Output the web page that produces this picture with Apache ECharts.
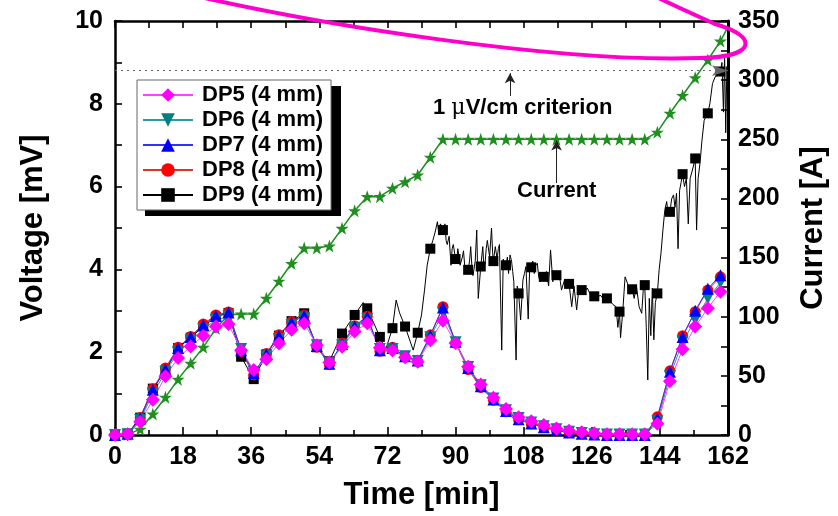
<!DOCTYPE html>
<html>
<head>
<meta charset="utf-8">
<script src="https://cdn.jsdelivr.net/npm/echarts@6/dist/echarts.min.js"></script>
<style>
  html, body { margin: 0; padding: 0; background: #ffffff; }
  #chart { width: 838px; height: 516px; }
</style>
</head>
<body>
<div id="chart"></div>
<script>
// Sample times of the marked points [min]
const timeMin = [0, 3.33, 6.66, 10, 13.33, 16.66, 20, 23.33, 26.66, 30,
  33.33, 36.66, 40, 43.33, 46.66, 50, 53.33, 56.66, 60, 63.33,
  66.66, 70, 73.33, 76.66, 80, 83.33, 86.66, 90, 93.33, 96.66,
  100, 103.33, 106.66, 110, 113.33, 116.66, 120, 123.33, 126.66, 130,
  133.33, 136.66, 140, 143.33, 146.66, 150, 153.33, 156.66, 160];

// Transport current [A]
const currentA = [0, 0.5, 4.8, 17.7, 31.9, 47, 60.6, 74.1, 90.2, 101.4,
  102.3, 102.3, 115.6, 130, 145, 158, 158, 159.8, 174.7, 189.6,
  201.5, 201.5, 208.6, 214.1, 219.8, 234.8, 250, 250, 250, 250,
  250, 250, 250, 250, 250, 250, 250, 250, 250, 250,
  250, 250, 250, 256, 272, 287, 302, 317, 333];
const currentEndTime = 162;
const currentEndA = 345;

// Voltage taps [mV]
const dp5 = [0, 0.02, 0.32, 0.85, 1.42, 1.86, 2.14, 2.40, 2.62, 2.68,
  2.05, 1.57, 1.83, 2.21, 2.54, 2.70, 2.17, 1.75, 2.13, 2.50,
  2.70, 2.11, 2.04, 1.88, 1.77, 2.29, 2.76, 2.22, 1.65, 1.22,
  0.90, 0.63, 0.43, 0.33, 0.24, 0.16, 0.10, 0.065, 0.04, 0.02,
  0.02, 0.02, 0.02, 0.27, 1.30, 2.07, 2.62, 3.06, 3.46];
const dp6 = [0, 0.02, 0.36, 1.0, 1.52, 2.0, 2.28, 2.56, 2.78, 2.86,
  2.08, 1.52, 1.9, 2.32, 2.65, 2.82, 2.17, 1.74, 2.17, 2.58,
  2.8, 2.08, 2.08, 1.9, 1.79, 2.36, 2.95, 2.24, 1.64, 1.2,
  0.88, 0.6, 0.41, 0.3, 0.21, 0.14, 0.08, 0.05, 0.02, 0.01,
  0.01, 0.01, 0.01, 0.33, 1.42, 2.25, 2.78, 3.30, 3.68];
const dp7 = [0, 0.03, 0.40, 1.09, 1.59, 2.10, 2.37, 2.66, 2.88, 2.96,
  2.05, 1.50, 1.95, 2.40, 2.72, 2.88, 2.15, 1.72, 2.20, 2.62,
  2.85, 2.05, 2.10, 1.90, 1.80, 2.40, 3.08, 2.25, 1.62, 1.18,
  0.86, 0.58, 0.38, 0.28, 0.19, 0.12, 0.06, 0.03, 0.01, 0,
  0, 0, 0, 0.40, 1.53, 2.37, 3.0, 3.53, 3.86];
const dp8 = [0, 0.03, 0.42, 1.12, 1.62, 2.12, 2.38, 2.68, 2.9, 2.97,
  2.02, 1.45, 1.97, 2.42, 2.74, 2.9, 2.12, 1.7, 2.22, 2.64,
  2.87, 2.02, 2.12, 1.88, 1.78, 2.42, 3.1, 2.22, 1.58, 1.15,
  0.84, 0.56, 0.37, 0.27, 0.18, 0.11, 0.06, 0.03, 0.01, 0,
  0, 0, 0, 0.44, 1.55, 2.40, 2.98, 3.50, 3.82];
const dp9 = [0, 0.03, 0.42, 1.12, 1.55, 2.1, 2.35, 2.62, 2.85, 2.95,
  1.89, 1.35, 1.95, 2.4, 2.75, 2.94, 2.12, 1.78, 2.45, 2.90,
  3.06, 2.37, 2.58, 2.62, 2.47, 4.5, 4.95, 4.25, 3.99, 4.07,
  4.2, 4.1, 3.42, 4.05, 3.82, 3.86, 3.65, 3.50, 3.35, 3.30,
  2.98, 3.52, 3.62, 3.42, 5.39, 6.30, 6.68, 7.77, 8.78];

// DP9 raw trace between the marked points (noisy section)
const dp9TraceTime = [65.6, 71.5, 74.3, 75.2, 78.8, 81.0, 81.8, 82.5,
  84.0, 84.6, 85.2, 85.6, 86.0, 87.2, 87.5, 87.8, 88.3, 88.8, 89.1, 89.4,
  90.3, 90.6, 91.0, 91.2, 91.8, 92.1, 92.5, 93.7, 94.0, 94.3, 94.6, 95.2, 95.6, 96.0,
  97.2, 97.5, 97.8, 98.1, 98.4, 99.0, 99.5, 99.8, 100.5, 101.0, 101.3, 101.6, 102.2, 102.6,
  103.7, 104.0, 104.4, 104.8, 105.1, 105.4, 106.0, 106.3, 107.2, 107.8, 108.2, 108.6, 109.2, 109.6,
  110.4, 110.8, 111.2, 111.6, 112.0, 112.4, 112.8, 114.0, 114.6, 115.1, 115.7, 116.1,
  117.3, 117.7, 118.0, 118.8, 119.4, 120.7, 121.3, 122.0, 122.6,
  124.0, 124.8, 125.6, 127.4, 128.2, 129.0, 130.8, 131.6, 132.4, 132.9,
  133.6, 134.2, 134.8, 135.5, 136.1, 137.2, 137.8, 138.5, 139.2, 139.6,
  140.4, 140.8, 141.2, 141.6, 142.0, 142.4, 142.8,
  143.8, 144.3, 144.8, 145.3, 145.8, 146.2, 147.1, 147.6, 148.0, 148.4, 148.8, 149.2, 149.6,
  150.5, 151.0, 151.5, 152.0, 152.6, 153.7, 154.1, 154.6, 155.1, 155.7,
  157.2, 157.9, 158.6, 159.3, 160.4, 160.8, 161.1, 161.4, 161.7, 162.0];
const dp9TraceVolt = [3.2, 2.05, 3.26, 2.95, 2.05, 2.9, 3.5, 4.1,
  4.7, 4.9, 5.15, 4.85, 5.1, 5.1, 4.7, 4.6, 4.8, 4.1, 4.5, 4.6,
  4.2, 4.5, 4.25, 4.1, 4.3, 4.45, 4.0, 4.2, 4.55, 4.1, 3.85, 4.2, 4.95, 3.3,
  4.55, 4.0, 4.15, 4.5, 4.7, 4.3, 5.0, 4.4, 4.55, 4.25, 4.5, 4.6, 2.05, 4.25,
  4.3, 3.9, 4.35, 4.2, 3.95, 3.7, 1.81, 3.6, 2.78, 3.74, 3.9, 4.07, 2.8, 4.1,
  4.2, 3.9, 4.1, 4.15, 3.8, 3.7, 3.9, 3.95, 3.6, 4.47, 3.7, 3.95,
  3.95, 3.7, 3.5, 3.75, 3.55, 3.1, 3.6, 3.02, 3.55,
  3.45, 3.55, 3.4, 3.3, 3.38, 3.3, 3.25, 3.15, 3.1, 2.6,
  2.35, 3.0, 3.82, 3.65, 3.4, 3.3, 3.6, 3.1, 2.94, 3.5,
  2.6, 1.33, 3.3, 2.4, 3.55, 2.3, 3.2,
  3.99, 4.4, 4.95, 5.43, 5.64, 5.3, 5.7, 5.8, 5.5, 5.84, 4.5, 5.9, 6.1,
  6.0, 6.2, 5.1, 6.2, 6.4, 4.95, 6.2, 6.56, 7.1, 7.6,
  8.0, 8.49, 8.65, 8.7, 9.0, 7.8, 9.2, 7.3, 8.9, 8.5];

// Voltage criterion level [mV]
const criterionMV = 8.8;

// Axis tick settings
const timeTicks = { min: 0, max: 162, interval: 18 };
const voltTicks = { min: 0, max: 10, interval: 2 };
const currTicks = { min: 0, max: 350, interval: 50 };

const FONT = '"Liberation Sans", Arial, Helvetica, sans-serif';

const pairs = (xs, ys) => xs.map((x, i) => [x, ys[i]]);

const dp9Data = timeMin.map((t, i) => ({ value: [t, dp9[i]] }))
  .concat(dp9TraceTime.map((t, i) => ({ value: [t, dp9TraceVolt[i]], symbol: 'none' })))
  .sort((a, b) => a.value[0] - b.value[0]);

const currentData = pairs(timeMin, currentA)
  .concat([{ value: [currentEndTime, currentEndA], symbol: 'none' }]);

const STAR = 'path://M50,0 L61.8,35.4 L99,35.4 L69,57.3 L80.4,92.7 L50,70.8 L19.6,92.7 L31,57.3 L1,35.4 L38.2,35.4 Z';

const tickLine = { color: '#000', width: 1.6 };

// Hand-drawn highlight loop in the upper right corner
const loopStyle = { stroke: '#ff00cc', lineWidth: 4, fill: null, lineCap: 'round' };
const loopSegments = [
  { x1: 170, y1: -10, cpx1: 320, cpy1: 26, cpx2: 560, cpy2: 63, x2: 700, y2: 58 },
  { x1: 700, y1: 58, cpx1: 758, cpy1: 57, cpx2: 758, cpy2: 36, x2: 715, y2: 24 },
  { x1: 715, y1: 24, cpx1: 695, cpy1: 15, cpx2: 675, cpy2: 6, x2: 650, y2: -6 }
];

const chart = echarts.init(document.getElementById('chart'), null, { renderer: 'canvas' });

chart.setOption({
  animation: false,
  backgroundColor: '#ffffff',
  textStyle: { fontFamily: FONT },
  grid: { left: 115, right: 110, top: 21, bottom: 81, containLabel: false, outerBoundsMode: 'none' },
  legend: {
    orient: 'vertical',
    left: 137, top: 80, z: 10,
    padding: [4, 8, 4, 5],
    itemGap: 3,
    itemWidth: 50,
    itemHeight: 17,
    backgroundColor: '#ffffff',
    borderColor: '#666',
    borderWidth: 1,
    selectedMode: false,
    data: ['DP5 (4 mm)', 'DP6 (4 mm)', 'DP7 (4 mm)', 'DP8 (4 mm)', 'DP9 (4 mm)'],
    textStyle: { fontSize: 22, fontWeight: 'bold', color: '#000', fontFamily: FONT, lineHeight: 22, padding: [0, 0, 0, 4] }
  },
  xAxis: [{
    type: 'value', position: 'bottom',
    min: timeTicks.min, max: timeTicks.max, interval: timeTicks.interval,
    name: 'Time [min]', nameLocation: 'middle', nameGap: 45,
    nameTextStyle: { fontSize: 31, fontWeight: 'bold', color: '#000', fontFamily: FONT },
    axisLine: { show: true, onZero: false, lineStyle: { color: '#000', width: 2.5 } },
    axisTick: { show: true, inside: true, length: 8, lineStyle: tickLine },
    minorTick: { show: true, splitNumber: 2, length: 5, lineStyle: tickLine },
    axisLabel: { fontSize: 25, fontWeight: 'bold', color: '#000', margin: 10, fontFamily: FONT },
    splitLine: { show: false }
  }, {
    type: 'value', position: 'top',
    min: timeTicks.min, max: timeTicks.max, interval: 9,
    axisLine: { show: true, onZero: false, lineStyle: { color: '#000', width: 2.5 } },
    axisTick: { show: true, inside: true, length: 7, lineStyle: tickLine },
    axisLabel: { show: false },
    splitLine: { show: false }
  }],
  yAxis: [{
    type: 'value', position: 'left',
    min: voltTicks.min, max: voltTicks.max, interval: voltTicks.interval,
    name: 'Voltage [mV]', nameLocation: 'middle', nameGap: 66, nameRotate: 90,
    nameTextStyle: { fontSize: 31, fontWeight: 'bold', color: '#000', fontFamily: FONT },
    axisLine: { show: true, onZero: false, lineStyle: { color: '#000', width: 2.5 } },
    axisTick: { show: true, inside: true, length: 7, lineStyle: tickLine },
    minorTick: { show: true, splitNumber: 2, length: 7, lineStyle: tickLine },
    axisLabel: { fontSize: 25, fontWeight: 'bold', color: '#000', margin: 12, fontFamily: FONT },
    splitLine: { show: false }
  }, {
    type: 'value', position: 'right',
    min: currTicks.min, max: currTicks.max, interval: currTicks.interval,
    name: 'Current [A]', nameLocation: 'middle', nameGap: 70, nameRotate: 90,
    nameTextStyle: { fontSize: 31, fontWeight: 'bold', color: '#000', fontFamily: FONT },
    axisLine: { show: true, onZero: false, lineStyle: { color: '#000', width: 3 } },
    axisTick: { show: true, inside: true, length: 7, lineStyle: tickLine },
    minorTick: { show: true, splitNumber: 2, length: 7, lineStyle: tickLine },
    axisLabel: { fontSize: 25, fontWeight: 'bold', color: '#000', margin: 10, fontFamily: FONT },
    splitLine: { show: false }
  }],
  series: [{
    name: 'Current', type: 'line', yAxisIndex: 1,
    data: currentData,
    symbol: STAR, symbolSize: 13,
    itemStyle: { color: '#1f8f1f' },
    lineStyle: { color: '#1f8f1f', width: 1.5 },
    markLine: {
      silent: true, animation: false,
      symbol: ['none', 'arrow'], symbolSize: [8, 10],
      label: { show: false },
      lineStyle: { color: '#222', width: 1, type: 'solid' },
      data: [[{ coord: [116.7, 213] }, { coord: [116.7, 249] }]]
    }
  }, {
    name: 'DP9 (4 mm)', type: 'line',
    data: dp9Data,
    symbol: 'rect', symbolSize: 10,
    itemStyle: { color: '#000' },
    lineStyle: { color: '#000', width: 1 }
  }, {
    name: 'DP8 (4 mm)', type: 'line',
    data: pairs(timeMin, dp8),
    symbol: 'circle', symbolSize: 11,
    itemStyle: { color: '#ff0000' },
    lineStyle: { color: '#e03030', width: 1 }
  }, {
    name: 'DP6 (4 mm)', type: 'line',
    data: pairs(timeMin, dp6),
    symbol: 'triangle', symbolRotate: 180, symbolSize: 12,
    itemStyle: { color: '#008080' },
    lineStyle: { color: '#2a9a9a', width: 1 }
  }, {
    name: 'DP7 (4 mm)', type: 'line',
    data: pairs(timeMin, dp7),
    symbol: 'triangle', symbolSize: 12,
    itemStyle: { color: '#0000ff' },
    lineStyle: { color: '#3030ff', width: 1 }
  }, {
    name: 'DP5 (4 mm)', type: 'line',
    data: pairs(timeMin, dp5),
    symbol: 'diamond', symbolSize: 14,
    itemStyle: { color: '#ff00ff' },
    lineStyle: { color: '#ff40ff', width: 1 },
    markLine: {
      silent: true, animation: false,
      label: { show: false },
      data: [
        { yAxis: criterionMV, symbol: 'none',
          lineStyle: { color: '#666', width: 1.2, type: [2, 4] } },
        [{ coord: [104.4, 8.19], symbol: 'none', lineStyle: { color: '#222', width: 1, type: 'solid' } },
         { coord: [104.4, 8.74], symbol: 'arrow', symbolSize: [8, 10] }]
      ]
    }
  }],
  graphic: [{
    // hard drop shadow behind the legend box
    type: 'rect', z: 5, silent: true,
    shape: { x: 145, y: 86, width: 196, height: 130 },
    style: { fill: '#000' }
  }, {
    type: 'text', x: 433, y: 108, z: 100,
    style: {
      text: '{a|1 }{m|μ}{a|V/cm criterion}',
      verticalAlign: 'middle',
      rich: {
        a: { fontSize: 22, fontWeight: 'bold', fill: '#000', fontFamily: FONT },
        m: { fontSize: 22, fontWeight: 'normal', fill: '#000', fontFamily: '"DejaVu Serif", serif' }
      }
    }
  }, {
    type: 'text', x: 517, y: 191, z: 100,
    style: {
      text: 'Current', fill: '#000', verticalAlign: 'middle',
      font: 'bold 22px ' + FONT
    }
  }].concat(loopSegments.map(seg => ({
    type: 'bezierCurve', z: 200, silent: true,
    shape: seg,
    style: loopStyle
  })))
});
</script>
</body>
</html>
